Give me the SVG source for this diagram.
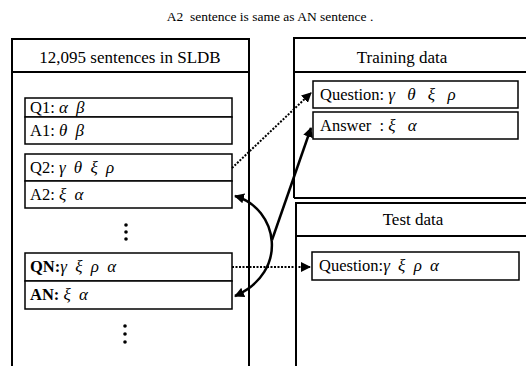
<svg xmlns="http://www.w3.org/2000/svg" width="526" height="366" viewBox="0 0 526 366">
<defs>
<marker id="ah" viewBox="0 0 10 10" refX="9" refY="5" markerWidth="10" markerHeight="10" markerUnits="userSpaceOnUse" orient="auto-start-reverse">
<path d="M0,0 L10,5 L0,10 z" fill="#000"/>
</marker>
</defs>
<style>
text{font-family:"Liberation Serif","Times New Roman",serif;fill:#000;}
.t{font-size:13.5px;white-space:pre;}
.h{font-size:17px;}
.b{font-size:16.5px;white-space:pre;}
.g{font-style:italic;font-size:17px;word-spacing:4px;}
.gw{font-style:italic;font-size:17px;word-spacing:8px;}
.bold{font-weight:bold;}
.outer{fill:none;stroke:#000;stroke-width:2;}
.inner{fill:#fff;stroke:#000;stroke-width:1.5;}
.dot{stroke:#000;stroke-width:2;stroke-dasharray:2,1.5;fill:none;}
.sol{stroke:#000;stroke-width:2.5;fill:none;}
</style>
<rect width="526" height="366" fill="#fff"/>
<text class="t" x="270" y="21" text-anchor="middle">A2  sentence is same as AN sentence .</text>

<g id="sldb">
<path class="outer" d="M12,370 V39 H249 V370"/>
<line class="outer" x1="12" y1="72" x2="249" y2="72"/>
<text class="h" x="130" y="63" text-anchor="middle">12,095 sentences in SLDB</text>
</g>
<g id="q1">
<rect class="inner" x="25" y="98" width="207" height="19"/>
<text class="b" x="30" y="113">Q1: <tspan class="g">α β</tspan></text>
</g>
<g id="a1">
<rect class="inner" x="25" y="117" width="207" height="27"/>
<text class="b" x="30" y="136">A1: <tspan class="g">θ β</tspan></text>
</g>
<g id="q2">
<rect class="inner" x="25" y="154" width="207" height="27"/>
<text class="b" x="30" y="173">Q2: <tspan class="g">γ θ ξ ρ</tspan></text>
</g>
<g id="a2">
<rect class="inner" x="25" y="181" width="207" height="27"/>
<text class="b" x="30" y="200">A2: <tspan class="g">ξ α</tspan></text>
</g>
<g id="dots1">
<circle cx="126" cy="225" r="1.8"/><circle cx="126" cy="232" r="1.8"/><circle cx="126" cy="239" r="1.8"/>
</g>
<g id="qn">
<rect class="inner" x="25" y="253" width="207" height="28"/>
<text class="b" x="30" y="272"><tspan class="bold">QN:</tspan><tspan class="g">γ ξ ρ α</tspan></text>
</g>
<g id="an">
<rect class="inner" x="25" y="281" width="207" height="28"/>
<text class="b" x="30" y="300"><tspan class="bold">AN:</tspan> <tspan class="g">ξ α</tspan></text>
</g>
<g id="dots2">
<circle cx="125" cy="326" r="1.8"/><circle cx="125" cy="334" r="1.8"/><circle cx="125" cy="342" r="1.8"/>
</g>

<g id="training">
<path class="outer" d="M294,198 V38 H530 M294,198 H530"/>
<line class="outer" x1="294" y1="72" x2="530" y2="72"/>
<text class="h" x="402" y="63" text-anchor="middle">Training data</text>
</g>
<g id="tq">
<rect class="inner" x="313" y="81" width="205" height="27"/>
<text class="b" x="320" y="100">Question: <tspan class="gw">γ θ ξ ρ</tspan></text>
</g>
<g id="ta">
<rect class="inner" x="313" y="112" width="205" height="27"/>
<text class="b" x="320" y="131">Answer  : <tspan class="gw">ξ α</tspan></text>
</g>

<g id="test">
<path class="outer" d="M296,370 V203 H530"/>
<line class="outer" x1="296" y1="236" x2="530" y2="236"/>
<text class="h" x="413" y="225" text-anchor="middle">Test data</text>
</g>
<g id="testq">
<rect class="inner" x="312" y="252" width="207" height="28"/>
<text class="b" x="319" y="271">Question:<tspan class="g">γ ξ ρ α</tspan></text>
</g>

<g id="connectors">
<path class="dot" d="M232,168 L311,93" marker-end="url(#ah)"/>
<path class="dot" d="M232,267 L310,267" marker-end="url(#ah)"/>
<path class="sol" d="M272,240 L311,128" marker-end="url(#ah)"/>
<path class="sol" d="M235,196 C278,208 290,272 235,296" marker-start="url(#ah)" marker-end="url(#ah)"/>
</g>
</svg>
